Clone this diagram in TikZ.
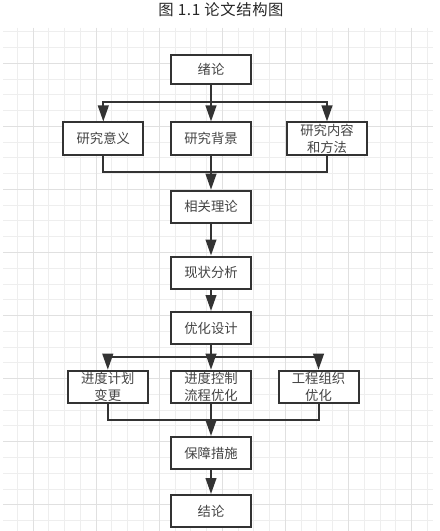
\documentclass[tikz,border=0pt]{standalone}
\usepackage{fontspec}
\setmainfont{Noto Sans CJK SC}
\newfontfamily\titlefont[LetterSpace=4]{Noto Sans CJK SC}
\usetikzlibrary{arrows.meta}
\definecolor{gridminor}{HTML}{EEEEEE}
\definecolor{gridmajor}{HTML}{E0E0E0}
\definecolor{linec}{HTML}{333333}
\definecolor{textc}{HTML}{444444}
\begin{document}
\begin{tikzpicture}[x=0.75pt,y=-0.75pt,
  box/.style={draw=linec, line width=1.5pt, fill=white, minimum width=60pt,
    minimum height=24pt, inner sep=0pt, text=textc,
    font=\fontsize{10}{12.75}\selectfont, align=center},
  conn/.style={draw=linec, line width=1.5pt},
  arr/.style={conn, -{Triangle[length=12pt,width=8pt]}}]
\useasboundingbox (0,0) rectangle (439,531);
\fill[white] (0,0) rectangle (439,531);
% grid
\foreach \i in {0,...,26} {\draw[gridminor, line width=0.75pt] ({17.3+15.77*\i},28) -- ({17.3+15.77*\i},531);}
\foreach \i in {0,...,31} {\draw[gridminor, line width=0.75pt] (3,{31.7+15.77*\i}) -- (433,{31.7+15.77*\i});}
\foreach \i in {0,...,6} {\draw[gridmajor, line width=0.75pt] ({33.3+63.08*\i},28) -- ({33.3+63.08*\i},531);}
\foreach \i in {0,...,7} {\draw[gridmajor, line width=0.75pt] (3,{63.3+63.08*\i}) -- (433,{63.3+63.08*\i});}
% title
\node[text=black!85, font=\titlefont\fontsize{11.5}{13}\selectfont] (title) at (221,10) {图 1.1 论文结构图};
% nodes
\node[box, minimum height=21.5pt] (xulun) at (211,69.5) {绪论};
\node[box] (yiyi) at (103.3,138.5) {研究意义};
\node[box] (beijing) at (211,138.5) {研究背景};
\node[box] (neirong) at (327,138.5) {研究内容\\和方法};
\node[box] (lilun) at (211,206.7) {相关理论};
\node[box] (xianzhuang) at (211,272.5) {现状分析};
\node[box] (sheji) at (211,328) {优化设计};
\node[box] (jihua) at (107.8,386.7) {进度计划\\变更};
\node[box] (kongzhi) at (211,386.7) {进度控制\\流程优化};
\node[box] (zuzhi) at (318.5,386.7) {工程组织\\优化};
\node[box] (baozhang) at (211,453) {保障措施};
\node[box] (jielun) at (211,511) {结论};
% junction coordinates
\coordinate (s1) at (211,102.5);
\coordinate (m1) at (211,172.3);
\coordinate (s2) at (211,357.3);
\coordinate (m2) at (211,420);
% connectors
\draw[arr] (xulun.south) -- (beijing.north);
\draw[arr] (s1) -| (yiyi.north);
\draw[arr] (s1) -| (neirong.north);
\draw[conn] (yiyi.south) |- (m1);
\draw[conn] (neirong.south) |- (m1);
\draw[arr] (beijing.south) -- (lilun.north);
\draw[arr] (lilun.south) -- (xianzhuang.north);
\draw[arr] (xianzhuang.south) -- (sheji.north);
\draw[arr] (sheji.south) -- (kongzhi.north);
\draw[arr] (s2) -| (jihua.north);
\draw[arr] (s2) -| (zuzhi.north);
\draw[conn] (jihua.south) |- (m2);
\draw[conn] (zuzhi.south) |- (m2);
\draw[arr] (kongzhi.south) -- (baozhang.north);
\draw[arr] (baozhang.south) -- (jielun.north);
\end{tikzpicture}
\end{document}
